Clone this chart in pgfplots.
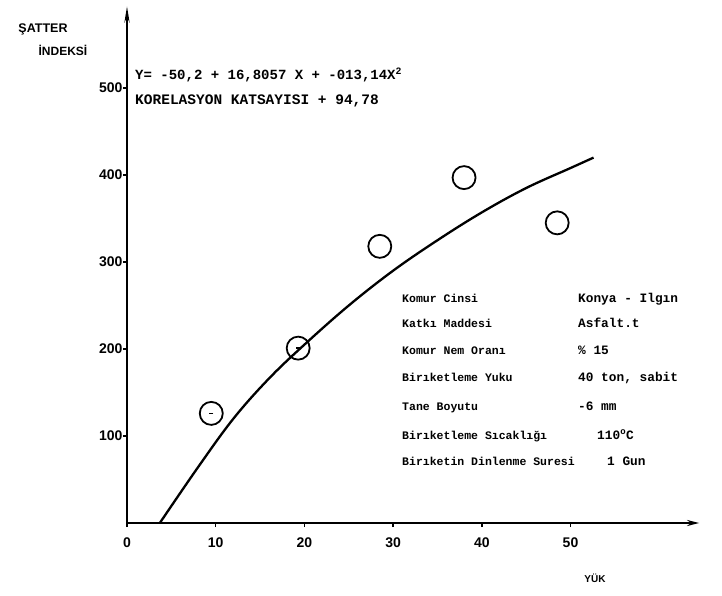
\documentclass[border=0pt]{standalone}
\usepackage{fontspec}
\setmainfont{Liberation Sans}
\setmonofont{Liberation Mono}
\usepackage{pgfplots}
\pgfplotsset{compat=1.18}
\usetikzlibrary{arrows.meta}
\begin{document}
\begin{tikzpicture}[x=1pt,y=1pt]
\useasboundingbox (-127,-72) rectangle (595,523);
\begin{axis}[at={(0pt,0pt)}, anchor=south west,
  x=8.87pt, y=0.87pt,
  xmin=0, xmax=64.5, ymin=0, ymax=594,
  axis lines=left,
  axis line style={line width=2.2pt},
  x axis line style={-{Stealth[length=12pt,width=6pt]}},
  y axis line style={-{Stealth[length=16pt,width=5pt]}},
  xtick={0,10,20,30,40,50}, ytick={100,200,300,400,500},
  tick style={line width=1.5pt, black},
  major tick length=4pt, tick align=outside,
  ticklabel style={font=\bfseries\fontsize{14}{14}\selectfont},
  xticklabel style={yshift=-7pt},
  yticklabel style={xshift=3pt},
  /pgf/number format/assume math mode=true,
  clip=false]
\addplot[smooth, tension=0.6, line width=2.3pt, black] coordinates {
 (3.7,0) (8,64) (12,120) (16,166) (20,205) (25,250) (30,290)
 (35,325) (40,357) (45,385) (50,408) (52.6,420)};
\addplot[only marks, mark=o, mark size=11.5pt, line width=1.8pt, black] coordinates {
 (9.5,126) (19.3,201) (28.5,318) (38,397) (48.5,345)};
\addplot[only marks, mark=-, mark size=2pt, line width=1.4pt, black] coordinates {
 (9.5,126) (19.3,201)};
\end{axis}
\node[font=\bfseries\fontsize{12.5}{12.5}\selectfont] at (-84,494) {ŞATTER};
\node[font=\bfseries\fontsize{12}{12}\selectfont] at (-64,473) {İNDEKSİ};
\node[anchor=base west, font=\ttfamily\bfseries\fontsize{14}{14}\selectfont, inner sep=0pt] at (8,443) {Y= -50,2 + 16,8057 X + -013,14X\textsuperscript{2}};
\node[anchor=base west, font=\ttfamily\bfseries\fontsize{14.5}{14}\selectfont, inner sep=0pt] at (8,418) {KORELASYON KATSAYISI + 94,78};
\begin{scope}[every node/.style={anchor=base west, inner sep=0pt, font=\ttfamily\bfseries\fontsize{11.5}{11}\selectfont}]
\node at (275,221) {Komur Cinsi};
\node at (275,196) {Katkı Maddesi};
\node at (275,169) {Komur Nem Oranı};
\node at (275,142) {Birıketleme Yuku};
\node at (275,113) {Tane Boyutu};
\node at (275,84) {Birıketleme Sıcaklığı};
\node at (275,58) {Birıketin Dinlenme Suresi};
\end{scope}
\begin{scope}[every node/.style={anchor=base west, inner sep=0pt, font=\ttfamily\bfseries\fontsize{12.8}{12}\selectfont}]
\node at (451,221) {Konya - Ilgın};
\node at (451,196) {Asfalt.t};
\node at (451,169) {\% 15};
\node at (451,142) {40 ton, sabit};
\node at (451,113) {-6 mm};
\node at (470,84) {110\textsuperscript{o}C};
\node at (480,58) {1 Gun};
\end{scope}
\node[font=\bfseries\fontsize{10}{10}\selectfont] at (468,-55) {YÜK};
\end{tikzpicture}
\end{document}
